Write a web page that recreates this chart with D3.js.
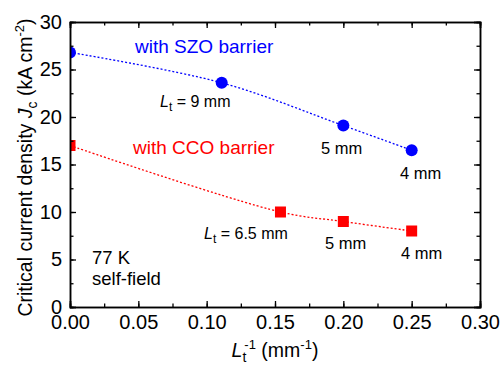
<!DOCTYPE html>
<html>
<head>
<meta charset="utf-8">
<script src="https://cdn.jsdelivr.net/npm/d3@7"></script>
<style>
  body { margin: 0; background: #fff; }
  text { font-family: "Liberation Sans", Arial, sans-serif; }
</style>
</head>
<body>
<div class="chart"></div>
<script>
// data
const szoX = [0, 0.111, 0.2, 0.25];
const szoY = [26.8, 23.6, 19.1, 16.5];
const ccoX = [0, 0.154, 0.2, 0.25];
const ccoY = [17, 10, 9, 8];
const xTicks = [0, 0.05, 0.1, 0.15, 0.2, 0.25, 0.3];
const yTicks = [0, 5, 10, 15, 20, 25, 30];

// setup chart
const width = 502, height = 374;
const margin = { left: 70, right: 22, top: 22, bottom: 67 };
const svg = d3.select(".chart").append("svg").attr("width", width).attr("height", height);

const x = d3.scaleLinear().domain([0, 0.3]).range([margin.left, width - margin.right]);
const y = d3.scaleLinear().domain([0, 30]).range([height - margin.bottom, margin.top]);

svg.append("clipPath").attr("id", "clip").append("rect")
   .attr("x", x(0)).attr("y", y(30)).attr("width", x(0.3) - x(0)).attr("height", y(0) - y(30));

// curves
const line = d3.line().x((d) => x(d[0])).y((d) => y(d[1])).curve(d3.curveCatmullRom);
const szo = szoX.map((v, i) => [v, szoY[i]]);
const cco = ccoX.map((v, i) => [v, ccoY[i]]);

const plot = svg.append("g").attr("clip-path", "url(#clip)");
plot.append("path").attr("d", line(szo)).attr("fill", "none")
   .attr("stroke", "#0000ff").attr("stroke-width", 1.3).attr("stroke-dasharray", "2,2");
plot.append("path").attr("d", line(cco)).attr("fill", "none")
   .attr("stroke", "#ff0000").attr("stroke-width", 1.3).attr("stroke-dasharray", "2,2");

plot.selectAll("circle").data(szo).enter().append("circle")
   .attr("cx", (d) => x(d[0])).attr("cy", (d) => y(d[1])).attr("r", 6).attr("fill", "#0000ff");
plot.selectAll("rect.pt").data(cco).enter().append("rect").attr("class", "pt")
   .attr("x", (d) => x(d[0]) - 5.5).attr("y", (d) => y(d[1]) - 5.5)
   .attr("width", 11).attr("height", 11).attr("fill", "#ff0000");

// axes
const tickFmt = d3.format(".2f");
const minorX = d3.range(0, 0.3001, 0.025);
const minorY = d3.range(0, 30.01, 2.5);

svg.append("g").attr("transform", `translate(0,${y(0)})`)
   .call(d3.axisBottom(x).tickValues(minorX).tickSize(-3.5).tickFormat(""));
svg.append("g").attr("transform", `translate(0,${y(0)})`)
   .call(d3.axisBottom(x).tickValues(xTicks).tickSize(-6).tickPadding(8).tickFormat(tickFmt));
svg.append("g").attr("transform", `translate(0,${y(30)})`)
   .call(d3.axisTop(x).tickValues(minorX).tickSize(-3.5).tickFormat(""));
svg.append("g").attr("transform", `translate(0,${y(30)})`)
   .call(d3.axisTop(x).tickValues(xTicks).tickSize(-6).tickFormat(""));

svg.append("g").attr("transform", `translate(${x(0)},0)`)
   .call(d3.axisLeft(y).tickValues(minorY).tickSize(-3.5).tickFormat(""));
svg.append("g").attr("transform", `translate(${x(0)},0)`)
   .call(d3.axisLeft(y).tickValues(yTicks).tickSize(-6).tickPadding(8));
svg.append("g").attr("transform", `translate(${x(0.3)},0)`)
   .call(d3.axisRight(y).tickValues(minorY).tickSize(-3.5).tickFormat(""));
svg.append("g").attr("transform", `translate(${x(0.3)},0)`)
   .call(d3.axisRight(y).tickValues(yTicks).tickSize(-6).tickFormat(""));

svg.selectAll(".domain").attr("stroke", "#000").attr("stroke-width", 1.5);
svg.selectAll(".tick line").attr("stroke", "#000").attr("stroke-width", 1.3);
svg.selectAll(".tick text").attr("font-size", 20).attr("fill", "#000")
   .style("font-family", "'Liberation Sans', Arial, sans-serif");

// axis titles
svg.append("text").attr("transform", `translate(32,${(y(0) + y(30)) / 2 + 3}) rotate(-90)`)
   .attr("text-anchor", "middle").attr("font-size", 19.5)
   .html('Critical current density  <tspan font-style="italic">J</tspan><tspan font-size="14" dy="5">c</tspan><tspan dy="-5"> (kA cm</tspan><tspan font-size="13" dy="-8">-2</tspan><tspan dy="8">)</tspan>');

svg.append("text").attr("x", (x(0) + x(0.3)) / 2).attr("y", 357)
   .attr("text-anchor", "middle").attr("font-size", 19.5)
   .html('<tspan font-style="italic">L</tspan><tspan font-size="14" dy="5">t</tspan><tspan font-size="13" dx="-2" dy="-13">-1</tspan><tspan dy="8"> (mm</tspan><tspan font-size="13" dy="-8">-1</tspan><tspan dy="8">)</tspan>');

// annotations
const note = (tx, ty, txt, color, size) =>
   svg.append("text").attr("x", tx).attr("y", ty).attr("font-size", size).attr("fill", color).html(txt);

note(135, 53, "with SZO barrier", "#0000ff", 19);
note(133, 154, "with CCO barrier", "#ff0000", 19);
note(160, 107, '<tspan font-style="italic">L</tspan><tspan font-size="12" dy="4">t</tspan><tspan dy="-4"> = 9 mm</tspan>', "#000", 16);
note(321, 154, "5 mm", "#000", 16.5);
note(400, 179, "4 mm", "#000", 16.5);
note(204, 239, '<tspan font-style="italic">L</tspan><tspan font-size="12" dy="4">t</tspan><tspan dy="-4"> = 6.5 mm</tspan>', "#000", 16);
note(325, 249, "5 mm", "#000", 16.5);
note(401, 259, "4 mm", "#000", 16.5);
note(92, 264, "77 K", "#000", 18.5);
note(92, 285, "self-field", "#000", 18.5);
</script>
</body>
</html>
